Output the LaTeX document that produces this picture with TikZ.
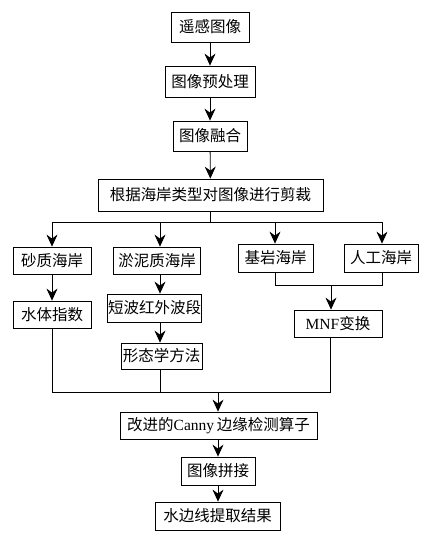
\documentclass[tikz,border=0pt]{standalone}
\usepackage{fontspec}
\setmainfont{Liberation Serif}
\newfontfamily\cjk{Noto Sans CJK SC}
\usetikzlibrary{arrows.meta}
\begin{document}
\begin{tikzpicture}[x=1pt,y=-1pt,
  box/.style={draw,line width=0.8pt,inner sep=0pt,font=\fontsize{15.5}{18}\selectfont},
  arr/.style={line width=0.8pt,-{Stealth[length=12pt,width=11pt,inset=4pt]}},
  ln/.style={line width=0.8pt}]
\useasboundingbox (0,0) rectangle (429,539);
\node[box,minimum width=78pt,minimum height=30pt] (b1) at (210,27) {\cjk 遥感图像};
\node[box,minimum width=90pt,minimum height=31pt] (b2) at (210,81.5) {\cjk 图像预处理};
\node[box,minimum width=74pt,minimum height=30pt] (b3) at (210,136) {\cjk 图像融合};
\node[box,minimum width=225pt,minimum height=32pt] (b4) at (210.5,195) {\cjk 根据海岸类型对图像进行剪裁};
\node[box,minimum width=78pt,minimum height=27pt] (s1) at (52,260.5) {\cjk 砂质海岸};
\node[box,minimum width=87pt,minimum height=27pt] (s2) at (157,260.5) {\cjk 淤泥质海岸};
\node[box,minimum width=75pt,minimum height=28pt] (s3) at (275.5,258) {\cjk 基岩海岸};
\node[box,minimum width=74pt,minimum height=28pt] (s4) at (381,258) {\cjk 人工海岸};
\node[box,minimum width=78pt,minimum height=27pt] (w1) at (52,314.5) {\cjk 水体指数};
\node[box,minimum width=94pt,minimum height=28pt] (w2) at (154.5,308) {\cjk 短波红外波段};
\node[box,minimum width=81pt,minimum height=26pt] (w3) at (161.5,356) {\cjk 形态学方法};
\node[box,minimum width=88pt,minimum height=27pt] (mnf) at (338,323.5) {MNF{\cjk 变换}};
\node[box,minimum width=197pt,minimum height=27pt] (canny) at (218.5,425.5) {{\cjk 改进的}Canny\,{\cjk 边缘检测算子}};
\node[box,minimum width=74pt,minimum height=28pt] (pj) at (218,471) {\cjk 图像拼接};
\node[box,minimum width=125pt,minimum height=28pt] (res) at (217.5,516) {\cjk 水边线提取结果};
% columns
\coordinate (c1) at (52,222);
\coordinate (c2) at (160,222);
\coordinate (c3) at (275,222);
\coordinate (c4) at (382,222);
\coordinate (jr) at (331,285);
\coordinate (jb) at (218,392);
\coordinate (x3) at (330,392);
% main chain
\draw[arr] (b1) -- (b2);
\draw[arr] (b2) -- (b3);
\draw[arr] (b3) -- (b4);
\draw[ln] (b4.south) -- (b4.south |- c1);
\draw[ln] (c1) -- (c4);
\draw[arr] (c1) -- (c1 |- s1.north);
\draw[arr] (c2) -- (c2 |- s2.north);
\draw[arr] (c3) -- (c3 |- s3.north);
\draw[arr] (c4) -- (c4 |- s4.north);
\draw[arr] (s1.south -| c1) -- (w1.north -| c1);
\draw[arr] (s2.south -| c2) -- (w2.north -| c2);
\draw[arr] (w2.south -| c2) -- (w3.north -| c2);
\draw[ln] (s3.south -| c3) -- (c3 |- jr) -- (c4 |- jr) -- (s4.south -| c4);
\draw[arr] (jr) -- (jr |- mnf.north);
\draw[ln] (w1.south -| c1) -- (c1 |- jb) -- (x3) -- (mnf.south -| x3);
\draw[ln] (w3.south -| c2) -- (c2 |- jb);
\draw[arr] (jb) -- (canny.north -| jb);
\draw[arr] (canny.south -| jb) -- (pj.north -| jb);
\draw[arr] (pj.south -| jb) -- (res.north -| jb);
\end{tikzpicture}
\end{document}
